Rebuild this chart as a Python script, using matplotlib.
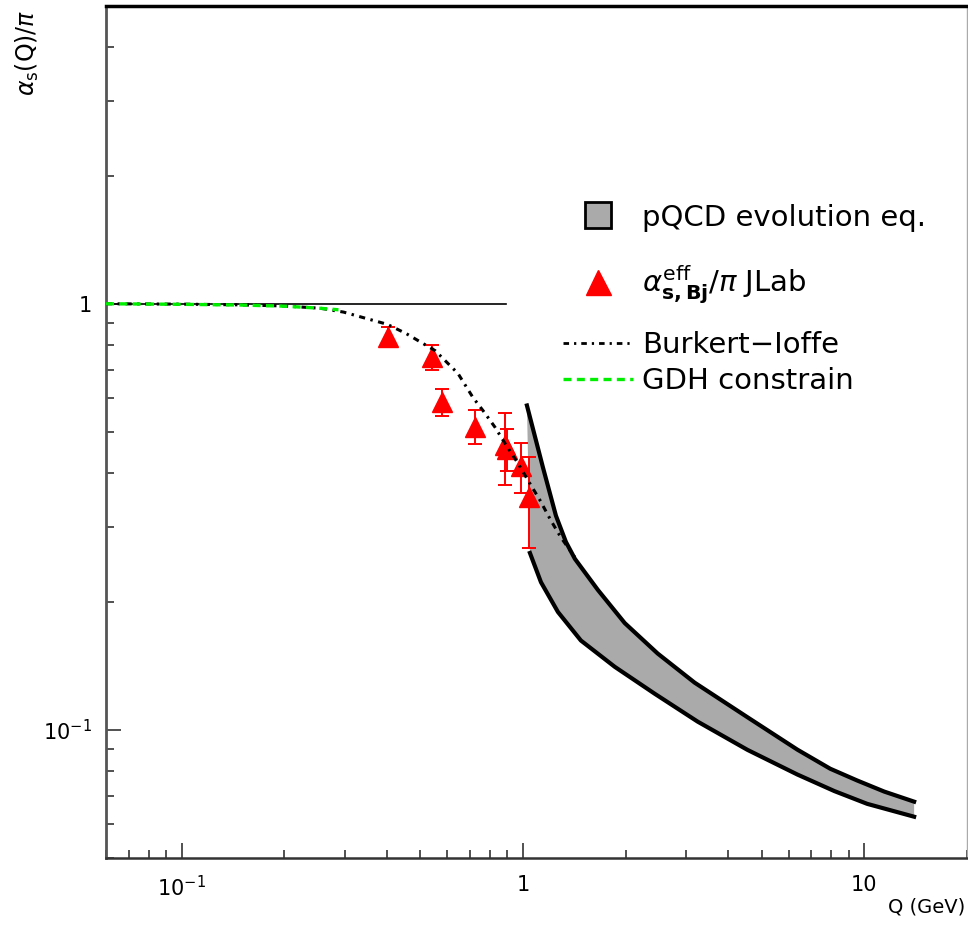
import matplotlib.pyplot as plt
import numpy as np
from matplotlib.lines import Line2D
from matplotlib.ticker import LogLocator, NullFormatter

plt.rcParams['font.family'] = ['DejaVu Sans']

# JLab effective coupling points (Q in GeV, alpha_s/pi)
q_jlab = [0.403, 0.542, 0.580, 0.724, 0.885, 0.897, 0.987, 1.041]
a_jlab = [0.837, 0.749, 0.588, 0.515, 0.465, 0.457, 0.415, 0.352]
e_jlab = [0.045, 0.050, 0.043, 0.047, 0.090, 0.052, 0.056, 0.085]

# Burkert-Ioffe curve
q_bi = [0.06, 0.10, 0.15, 0.20, 0.255, 0.298, 0.345, 0.40, 0.455, 0.553,
        0.645, 0.714, 0.764, 0.828, 0.886, 0.967, 1.055, 1.121, 1.207, 1.291, 1.419]
a_bi = [1.0, 0.998, 0.994, 0.988, 0.976, 0.956, 0.925, 0.895, 0.851, 0.776,
        0.686, 0.602, 0.561, 0.513, 0.470, 0.422, 0.375, 0.346, 0.310, 0.283, 0.254]

# GDH constraint
q_gdh = [0.06, 0.10, 0.15, 0.20, 0.25, 0.288]
a_gdh = [1.0, 0.997, 0.993, 0.987, 0.977, 0.968]

# horizontal reference line at 1
q_ref = [0.06, 0.89]
a_ref = [1.0, 1.0]

# pQCD evolution band, upper and lower edges
q_up = [1.027, 1.144, 1.249, 1.336, 1.419, 1.657, 1.987, 2.481, 3.184, 4.548,
        6.37, 7.95, 9.54, 11.44, 14.0]
a_up = [0.577, 0.413, 0.318, 0.276, 0.252, 0.213, 0.178, 0.151, 0.129, 0.107,
        0.0898, 0.0810, 0.0760, 0.0716, 0.0678]
q_lo = [1.048, 1.129, 1.266, 1.478, 1.858, 2.432, 3.249, 4.548, 6.37, 8.17, 10.2, 14.0]
a_lo = [0.260, 0.222, 0.189, 0.162, 0.1405, 0.1215, 0.1045, 0.0897, 0.0785, 0.0718, 0.0670, 0.0625]

fig = plt.figure(figsize=(9.68, 9.25), dpi=100)
ax = fig.add_axes([106/968, 67/925, 861/968, 852/925])
ax.set_xscale('log')
ax.set_yscale('log')
ax.set_xlim(0.06, 20)
ax.set_ylim(0.05, 5)

# band
ax.fill(np.concatenate([q_up, q_lo[::-1]]), np.concatenate([a_up, a_lo[::-1]]),
        color='#aaaaaa', lw=0, zorder=1)

# data
ax.errorbar(q_jlab, a_jlab, yerr=e_jlab, fmt='^', color='red', ms=14,
            elinewidth=1.4, capsize=5, capthick=1.4, zorder=3)

ax.plot(q_ref, a_ref, color='k', lw=1.2, zorder=2)
ax.plot(q_bi, a_bi, color='k', lw=2.2, dashes=(2, 1.8, 0.8, 1.8), zorder=4)
ax.plot(q_gdh, a_gdh, color='#00ee00', lw=2.4, dashes=(2.4, 1.6), zorder=5)
ax.plot(q_up, a_up, color='k', lw=3, solid_joinstyle='round', zorder=5)
ax.plot(q_lo, a_lo, color='k', lw=3, solid_joinstyle='round', zorder=5)

# axes styling
ax.spines['left'].set_color('#555555')
ax.spines['left'].set_linewidth(2)
ax.spines['bottom'].set_color('#333333')
ax.spines['bottom'].set_linewidth(1.8)
ax.spines['top'].set_color('k')
ax.spines['top'].set_linewidth(2.5)
ax.spines['right'].set_color('#aaaaaa')
ax.spines['right'].set_linewidth(1)

ax.set_xticks([0.1, 1, 10], [r'$10^{-1}$', '1', '10'])
ax.set_yticks([0.1, 1], [r'$10^{-1}$', '1'])
ax.xaxis.set_minor_locator(LogLocator(base=10, subs=np.arange(2, 10), numticks=20))
ax.yaxis.set_minor_locator(LogLocator(base=10, subs=np.arange(2, 10), numticks=20))
ax.xaxis.set_minor_formatter(NullFormatter())
ax.yaxis.set_minor_formatter(NullFormatter())
ax.tick_params(which='both', direction='in', top=False, right=False,
               labelsize=15, color='#333333', width=1.2)
ax.tick_params(which='major', length=11)
ax.tick_params(which='minor', length=6)
ax.tick_params(axis='x', which='major', pad=12)
ax.tick_params(axis='y', which='major', pad=10)

fig.text(0.028, 0.99, r'$\alpha_{\mathrm{s}}\mathrm{(Q)/}\pi$', rotation=90,
         ha='center', va='top', fontsize=17)
fig.text(0.997, 0.019, 'Q (GeV)', ha='right', va='center', fontsize=14)

# legends
h_band = Line2D([], [], ls='none', marker='s', ms=19, mfc='#aaaaaa', mec='k', mew=2)
h_data = Line2D([], [], ls='none', marker='^', ms=18, color='red')
leg1 = ax.legend([h_band, h_data],
                 ['pQCD evolution eq.', r'$\alpha_{\mathbf{s,Bj}}^{\mathrm{eff}}/\pi$ JLab'],
                 loc='upper left', bbox_to_anchor=(0.531, 0.768), frameon=False,
                 fontsize=21, borderpad=0, borderaxespad=0, handlelength=2.4,
                 handletextpad=0.3, labelspacing=1.1)
ax.add_artist(leg1)

h_bi = Line2D([], [], color='k', lw=2, dashes=(2, 1.8, 0.8, 1.8))
h_gdh = Line2D([], [], color='#00ee00', lw=2.4, dashes=(2.4, 1.6))
ax.legend([h_bi, h_gdh], ['Burkert\u2212Ioffe', 'GDH constrain'],
          loc='upper left', bbox_to_anchor=(0.531, 0.618), frameon=False,
          fontsize=21, borderpad=0, borderaxespad=0, handlelength=2.4,
          handletextpad=0.3, labelspacing=0.25)

fig.savefig('out.png', dpi=100)
